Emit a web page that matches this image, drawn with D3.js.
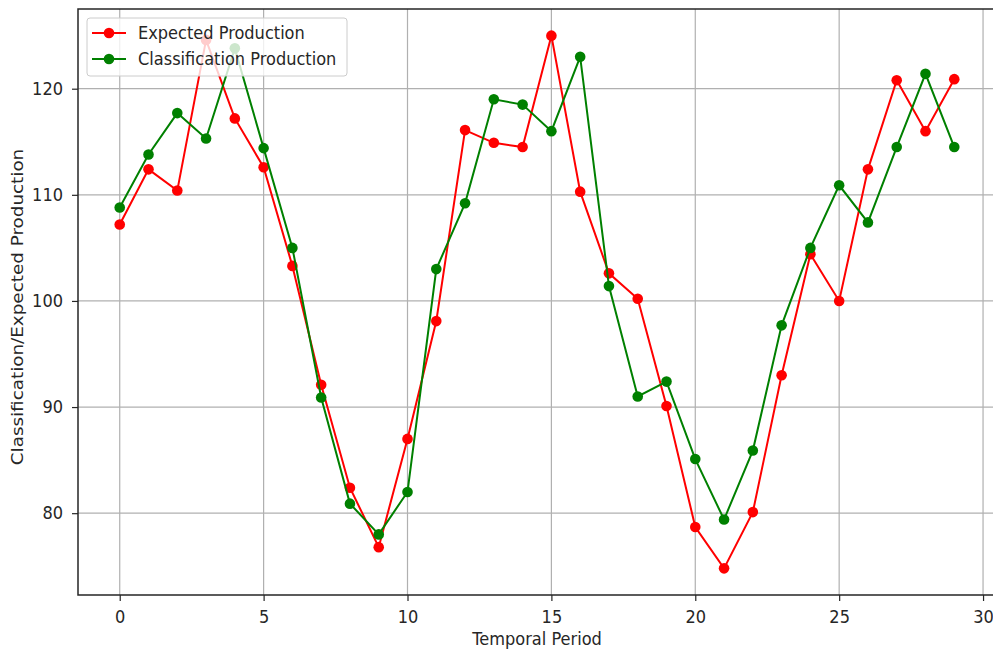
<!DOCTYPE html>
<html>
<head>
<meta charset="utf-8">
<script src="https://cdn.jsdelivr.net/npm/d3@7"></script>
<style>
  body { margin: 0; background: #fff; }
  text { font-family: "DejaVu Sans", sans-serif; fill: #262626; }
  .axis line { stroke: #262626; stroke-width: 1.2; }
</style>
</head>
<body>
<div id="chart"></div>
<script>
var svgWidth = 993;
var svgHeight = 650;

var margin = { top: 9, right: -3, bottom: 55, left: 78 };
var width = svgWidth - margin.left - margin.right;
var height = svgHeight - margin.top - margin.bottom;

var fontSize = 16.2;
var stretch = 1.1; // the picture is a little taller than wide

// Data
var periods = d3.range(0, 30);
var expected = [107.2, 112.4, 110.4, 124.6, 117.2, 112.6, 103.3, 92.1, 82.4, 76.8,
                87.0, 98.1, 116.1, 114.9, 114.5, 125.0, 110.3, 102.6, 100.2, 90.1,
                78.7, 74.8, 80.1, 93.0, 104.4, 100.0, 112.4, 120.8, 116.0, 120.9];
var classification = [108.8, 113.8, 117.7, 115.3, 123.8, 114.4, 105.0, 90.9, 80.9, 78.0,
                      82.0, 103.0, 109.2, 119.0, 118.5, 116.0, 123.0, 101.4, 91.0, 92.4,
                      85.1, 79.4, 85.9, 97.7, 105.0, 110.9, 107.4, 114.5, 121.4, 114.5];
var xTicks = [0, 5, 10, 15, 20, 25, 30];
var yTicks = [80, 90, 100, 110, 120];

var series = [
  { name: "Expected Production", values: expected, color: "#ff0000" },
  { name: "Classification Production", values: classification, color: "#008000" }
];

var svg = d3.select("#chart")
  .append("svg")
  .attr("width", svgWidth)
  .attr("height", svgHeight);

svg.append("defs").append("clipPath")
  .attr("id", "clip")
  .append("rect")
  .attr("width", width)
  .attr("height", height);

var chartGroup = svg.append("g")
  .attr("transform", `translate(${margin.left}, ${margin.top})`);

// matplotlib style 5% padding
var xPad = (d3.max(periods) - d3.min(periods)) * 0.05;
var allY = expected.concat(classification);
var yPad = (d3.max(allY) - d3.min(allY)) * 0.05;

var xScale = d3.scaleLinear()
  .domain([d3.min(periods) - xPad, d3.max(periods) + xPad])
  .range([0, width]);

var yScale = d3.scaleLinear()
  .domain([d3.min(allY) - yPad, d3.max(allY) + yPad])
  .range([height, 0]);

// grid
var grid = chartGroup.append("g").attr("clip-path", "url(#clip)");
grid.selectAll(".vgrid")
  .data(xTicks)
  .enter()
  .append("line")
  .attr("x1", d => xScale(d))
  .attr("x2", d => xScale(d))
  .attr("y1", 0)
  .attr("y2", height)
  .attr("stroke", "#b0b0b0")
  .attr("stroke-width", 1.2);
grid.selectAll(".hgrid")
  .data(yTicks)
  .enter()
  .append("line")
  .attr("x1", 0)
  .attr("x2", width)
  .attr("y1", d => yScale(d))
  .attr("y2", d => yScale(d))
  .attr("stroke", "#b0b0b0")
  .attr("stroke-width", 1.2);

// lines and markers
var line = d3.line()
  .x((d, i) => xScale(periods[i]))
  .y(d => yScale(d));

var plot = chartGroup.append("g").attr("clip-path", "url(#clip)");
series.forEach(function(s) {
  plot.append("path")
    .datum(s.values)
    .attr("d", line)
    .attr("fill", "none")
    .attr("stroke", s.color)
    .attr("stroke-width", 2);

  plot.selectAll(null)
    .data(s.values)
    .enter()
    .append("circle")
    .attr("cx", (d, i) => xScale(periods[i]))
    .attr("cy", d => yScale(d))
    .attr("r", 5.3)
    .attr("fill", s.color);
});

// axes
var bottomAxis = d3.axisBottom(xScale).tickValues(xTicks).tickSizeOuter(0).tickSize(6);
var leftAxis = d3.axisLeft(yScale).tickValues(yTicks).tickSizeOuter(0).tickSize(6).tickPadding(9);

chartGroup.append("g")
  .attr("class", "axis")
  .attr("transform", `translate(0, ${height})`)
  .call(bottomAxis)
  .call(g => g.select(".domain").remove())
  .call(g => g.selectAll(".tick text")
    .attr("font-size", fontSize)
    .attr("dy", 0)
    .attr("y", 28 / stretch)
    .attr("transform", `scale(1, ${stretch})`));

chartGroup.append("g")
  .attr("class", "axis")
  .call(leftAxis)
  .call(g => g.select(".domain").remove())
  .call(g => g.selectAll(".tick text")
    .attr("font-size", fontSize)
    .attr("transform", `scale(1, ${stretch})`));

// spines
chartGroup.append("path")
  .attr("d", `M${width},0H0V${height}H${width}`)
  .attr("fill", "none")
  .attr("stroke", "#262626")
  .attr("stroke-width", 1.5);

// legend
var legend = chartGroup.append("g")
  .attr("transform", "translate(9, 9)");
legend.append("rect")
  .attr("width", 260)
  .attr("height", 58)
  .attr("rx", 3)
  .attr("fill", "#fff")
  .attr("fill-opacity", 0.8)
  .attr("stroke", "#cccccc");

var items = legend.selectAll(".item")
  .data(series)
  .enter()
  .append("g")
  .attr("transform", (d, i) => `translate(0, ${15 + i * 26})`);
items.append("line")
  .attr("x1", 5).attr("x2", 39)
  .attr("stroke", d => d.color)
  .attr("stroke-width", 2);
items.append("circle")
  .attr("cx", 22)
  .attr("r", 5.3)
  .attr("fill", d => d.color);
items.append("text")
  .attr("x", 51)
  .attr("dy", "0.36em")
  .attr("transform", `scale(1, ${stretch})`)
  .style("font-size", fontSize + "px")
  .text(d => d.name);

// axis labels
chartGroup.append("text")
  .attr("transform", `translate(${-margin.left + 23}, ${height / 2 + 5}) rotate(-90) scale(${stretch * 1.03}, 1)`)
  .attr("text-anchor", "middle")
  .style("font-size", fontSize + "px")
  .text("Classification/Expected Production");

chartGroup.append("text")
  .attr("transform", `translate(${width / 2}, ${height + 50}) scale(1, ${stretch})`)
  .attr("text-anchor", "middle")
  .style("font-size", fontSize + "px")
  .text("Temporal Period");
</script>
</body>
</html>
